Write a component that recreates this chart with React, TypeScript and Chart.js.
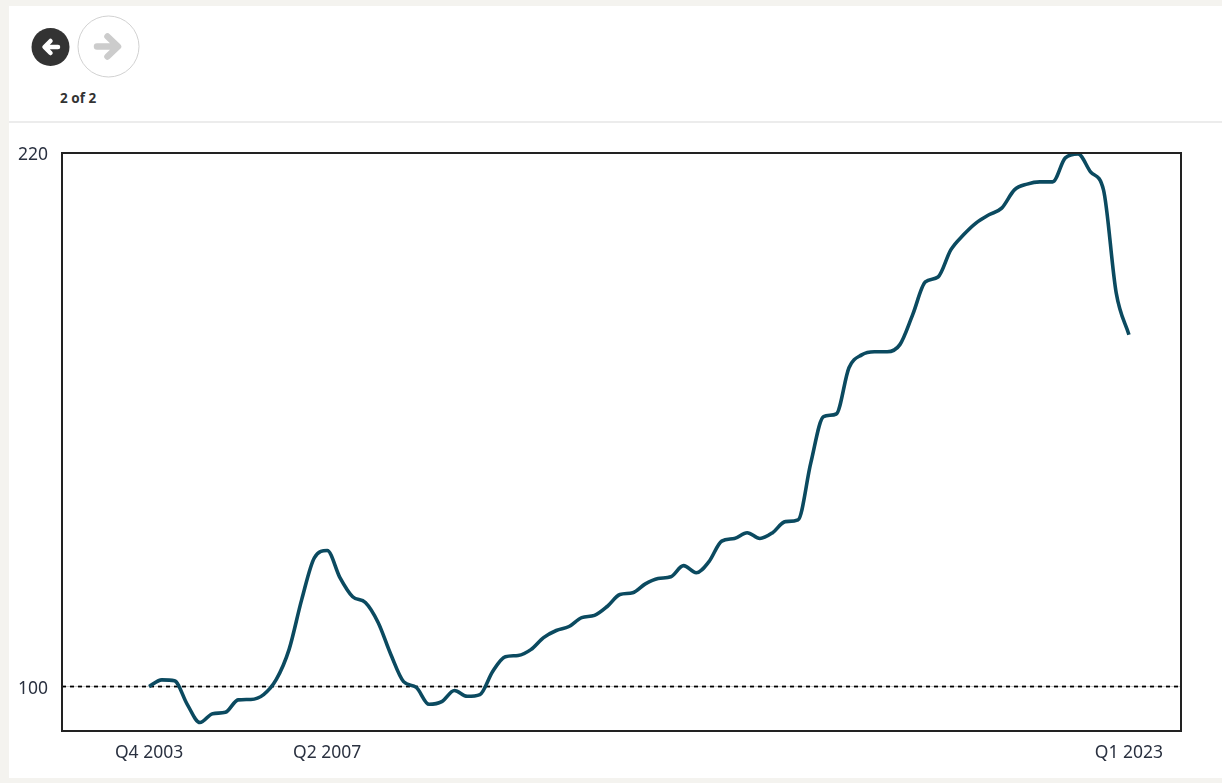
import React, { useEffect, useRef } from "react";
import { Chart, registerables } from "chart.js";

Chart.register(...registerables);

// Index of the quarter (0 = Q4 2003) and its label on the x axis
const tickQuarters = [0, 14, 77];
const tickQuarterLabels = ["Q4 2003", "Q2 2007", "Q1 2023"];
const valueTicks = [100, 220];
const baselineValue = 100;

// Index level per quarter, Q4 2003 to Q1 2023
const indexValues = [
  100, 101.5, 101.3, 96, 91.9, 93.9, 94.2, 97, 97.1, 98.2,
  101.6, 108.3, 119.6, 129, 130.6, 124.5, 120.2, 118.9, 114.4, 107.2,
  101.1, 99.8, 96, 96.6, 99.1, 97.8, 98.2, 103.4, 106.7, 107,
  108.3, 111, 112.6, 113.5, 115.5, 116, 118, 120.7, 121.1, 123.1,
  124.3, 124.7, 127.2, 125.6, 128.1, 132.7, 133.3, 134.6, 133.3, 134.6,
  137.1, 137.5, 150.3, 160.7, 161.3, 171.7, 174.6, 175.3, 175.3, 176.9,
  183.6, 191, 192.1, 198.2, 201.6, 204.3, 206.1, 207.6, 211.7, 213,
  213.5, 213.5, 218.9, 219.8, 215.7, 211.7, 188.5, 179.1,
];

const xMin = -6.84;
const xMax = 81.09;
const yMin = 90;
const yMax = 220;

const FONT = '"Noto Sans", sans-serif';
const TEXT = "#2a3140";
const LINE = "#0b4a60";

// Closed box around the plot area, since axis borders only cover two sides
const frame = {
  id: "frame",
  afterDatasetsDraw(chart: Chart) {
    const { ctx, chartArea: a } = chart;
    ctx.save();
    ctx.strokeStyle = "#222222";
    ctx.lineWidth = 2;
    ctx.strokeRect(a.left, a.top, a.right - a.left, a.bottom - a.top);
    ctx.restore();
  },
};

export default function App() {
  const ref = useRef<HTMLCanvasElement>(null);

  useEffect(() => {
    const chart = new Chart(ref.current!, {
      type: "line",
      plugins: [frame],
      data: {
        datasets: [
          {
            data: indexValues.map((y, x) => ({ x, y })),
            borderColor: LINE,
            borderWidth: 3.6,
            pointRadius: 0,
            cubicInterpolationMode: "monotone",
            order: 1,
          },
          {
            data: [
              { x: xMin, y: baselineValue },
              { x: xMax, y: baselineValue },
            ],
            borderColor: "#000000",
            borderWidth: 1.8,
            borderDash: [4, 4],
            pointRadius: 0,
            order: 2,
          },
        ],
      },
      options: {
        animation: false,
        responsive: false,
        events: [],
        layout: { padding: { top: 153, right: 41, left: 0, bottom: 0 } },
        plugins: { legend: { display: false }, tooltip: { enabled: false } },
        scales: {
          x: {
            type: "linear",
            min: xMin,
            max: xMax,
            afterFit: (s: any) => {
              s.height = 52;
            },
            afterBuildTicks: (s: any) => {
              s.ticks = tickQuarters.map((value) => ({ value }));
            },
            grid: { display: false, drawTicks: false },
            border: { display: false },
            ticks: {
              autoSkip: false,
              maxRotation: 0,
              padding: 12,
              color: TEXT,
              font: { family: FONT, size: 17.5 },
              callback: (v: any) => tickQuarterLabels[tickQuarters.indexOf(v)],
            },
          },
          y: {
            min: yMin,
            max: yMax,
            afterFit: (s: any) => {
              s.width = 62;
            },
            afterBuildTicks: (s: any) => {
              s.ticks = valueTicks.map((value) => ({ value }));
            },
            grid: {
              drawTicks: false,
              color: (c: any) => (c.tick?.value === baselineValue ? "#cccccc" : "transparent"),
            },
            border: { display: false },
            ticks: {
              padding: 14,
              labelOffset: 2,
              color: TEXT,
              font: { family: FONT, size: 17.5 },
            },
          },
        },
      },
    } as any);
    return () => chart.destroy();
  }, []);

  return (
    <div style={{ position: "absolute", left: 0, top: 0, width: 1222, height: 783, background: "#f4f3ef", overflow: "hidden" }}>
      <div style={{ position: "absolute", left: 9, top: 6, width: 1213, height: 772, background: "#ffffff" }} />
      <div style={{ position: "absolute", left: 9, top: 121, width: 1213, height: 2, background: "#ececec" }} />
      <svg width={150} height={90} style={{ position: "absolute", left: 0, top: 0 }}>
        <circle cx={50.5} cy={47} r={19} fill="#333333" />
        <path d="M58 47H45M50.5 41L44.5 47L50.5 53" fill="none" stroke="#ffffff" strokeWidth={4.5} strokeLinecap="round" strokeLinejoin="round" />
        <circle cx={108.5} cy={46.5} r={30.5} fill="#ffffff" stroke="#d2d2d2" strokeWidth={1} />
        <path d="M97 46.5H116M107.5 36.5L118 46.5L107.5 56.5" fill="none" stroke="#cccccc" strokeWidth={6.5} strokeLinecap="round" strokeLinejoin="round" />
      </svg>
      <div style={{ position: "absolute", left: 60, top: 89, font: `700 13.5px ${FONT}`, color: "#333333", lineHeight: "18px" }}>2 of 2</div>
      <canvas ref={ref} width={1222} height={783} style={{ position: "absolute", left: 0, top: 0 }} />
    </div>
  );
}
